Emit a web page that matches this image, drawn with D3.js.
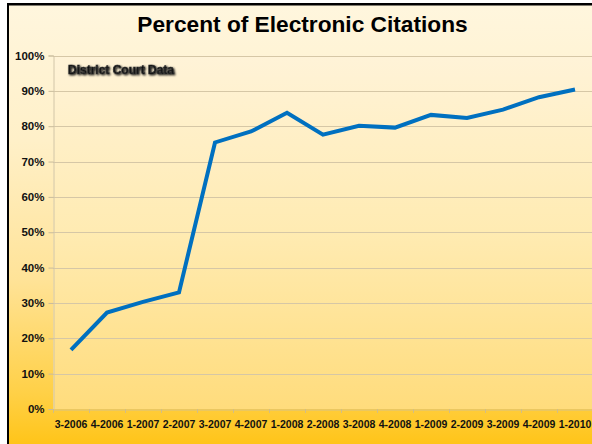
<!DOCTYPE html>
<html><head><meta charset="utf-8">
<script src="https://cdn.jsdelivr.net/npm/d3@7"></script>
<style>body{margin:0;background:#fff}svg{display:block}</style>
</head><body>
<svg id="c" width="592" height="444"></svg>
<script>
const title = "Percent of Electronic Citations";
const subtitle = "District Court Data";
const categories = ["3-2006","4-2006","1-2007","2-2007","3-2007","4-2007","1-2008","2-2008","3-2008","4-2008","1-2009","2-2009","3-2009","4-2009","1-2010"];
const percentElectronic = [0.167,0.273,0.303,0.330,0.754,0.785,0.838,0.776,0.801,0.796,0.832,0.823,0.847,0.882,0.904];
const yTicks = [0,0.1,0.2,0.3,0.4,0.5,0.6,0.7,0.8,0.9,1.0];

(function(){
const svg = d3.select("#c");
const defs = svg.append("defs");
const g1 = defs.append("linearGradient").attr("id","bgOuter").attr("x1",0).attr("y1",0).attr("x2",0).attr("y2",1);
[[0,"#FFF6DE"],[0.3,"#FFF0C8"],[0.6,"#FFE398"],[0.85,"#FFD046"],[1,"#FFC008"]].forEach(s=>g1.append("stop").attr("offset",s[0]).attr("stop-color",s[1]));
const g2 = defs.append("linearGradient").attr("id","bgPlot").attr("x1",0).attr("y1",0).attr("x2",0).attr("y2",1);
[[0,"#FFF3D8"],[0.5,"#FFEBB2"],[1,"#FFDC7C"]].forEach(s=>g2.append("stop").attr("offset",s[0]).attr("stop-color",s[1]));
const f = defs.append("filter").attr("id","sh").attr("x","-10%").attr("y","-50%").attr("width","120%").attr("height","200%");
f.append("feGaussianBlur").attr("in","SourceAlpha").attr("stdDeviation",0.8).attr("result","b");
f.append("feOffset").attr("in","b").attr("dx",1).attr("dy",1).attr("result","o");
const m = f.append("feMerge"); m.append("feMergeNode").attr("in","o"); m.append("feMergeNode").attr("in","SourceGraphic");

svg.append("rect").attr("x",7).attr("y",3).attr("width",600).attr("height",460).attr("fill","url(#bgOuter)");
svg.append("line").attr("x1",8).attr("x2",8).attr("y1",3).attr("y2",444).attr("stroke","#000").attr("stroke-width",2);
svg.append("line").attr("x1",7).attr("x2",592).attr("y1",4.2).attr("y2",4.2).attr("stroke","#000").attr("stroke-width",2.4);

const pL = 53, pR = 593, pT = 55.5, pB = 409;
const x = d3.scaleBand().domain(categories).range([pL,pR]);
const y = d3.scaleLinear().domain([0,1]).range([pB,pT]);

svg.append("rect").attr("x",pL).attr("y",pT).attr("width",pR-pL).attr("height",pB-pT).attr("fill","url(#bgPlot)");

svg.append("g").selectAll("line").data(yTicks.filter(d=>d>0)).join("line")
  .attr("x1",pL).attr("x2",pR).attr("y1",d=>Math.round(y(d))+0.5).attr("y2",d=>Math.round(y(d))+0.5)
  .attr("stroke","#D6C7A6").attr("stroke-width",1);

const ya = svg.append("g").attr("transform",`translate(${pL+0.5},0)`)
  .call(d3.axisLeft(y).tickValues(yTicks).tickFormat(d3.format(".0%")).tickSize(5).tickPadding(4));
ya.select(".domain").attr("stroke","#D2C6A8");
ya.selectAll(".tick line").attr("stroke","#C9BC9C");
ya.selectAll("text").attr("font-family","Liberation Sans, Arial, sans-serif").attr("font-weight","bold").attr("font-size",11.5).attr("fill","#111");

const xa = svg.append("g").attr("transform",`translate(0,${pB+0.5})`)
  .call(d3.axisBottom(x).tickSize(0).tickPadding(11));
xa.select(".domain").attr("stroke","#D6C28A");
xa.selectAll("text").attr("font-family","Liberation Sans, Arial, sans-serif").attr("font-weight","bold").attr("font-size",10.5).attr("fill","#111");
svg.append("g").selectAll("line").data(categories).join("line")
  .attr("x1",d=>Math.round(x(d))+0.5).attr("x2",d=>Math.round(x(d))+0.5).attr("y1",pB).attr("y2",pB+4)
  .attr("stroke","#D2BE86");

const line = d3.line().x((d,i)=>x(categories[i])+x.bandwidth()/2).y(d=>y(d));
svg.append("path").datum(percentElectronic).attr("d",line).attr("fill","none")
  .attr("stroke","#0070C0").attr("stroke-width",4).attr("stroke-linejoin","miter");

svg.append("text").attr("x",302.5).attr("y",32).attr("text-anchor","middle")
  .attr("font-family","Liberation Sans, Arial, sans-serif").attr("font-weight","bold").attr("font-size",22.7).attr("fill","#000").text(title);
svg.append("text").attr("x",68).attr("y",73.5)
  .attr("font-family","Liberation Sans, Arial, sans-serif").attr("font-weight","bold").attr("font-size",12)
  .attr("fill","#111").attr("stroke","#333").attr("stroke-width",0.7).attr("filter","url(#sh)").text(subtitle);
})();
</script>
</body></html>
